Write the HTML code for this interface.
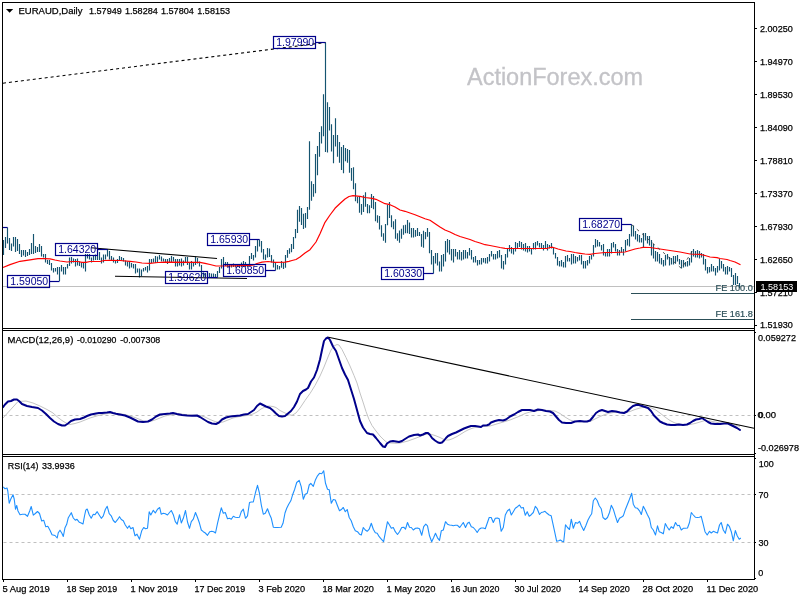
<!DOCTYPE html>
<html lang="en"><head><meta charset="utf-8"><title>EURAUD Daily - ActionForex.com</title>
<style>html,body{margin:0;padding:0;background:#fff}body{width:800px;height:600px;overflow:hidden}svg{display:block}text{font-family:"Liberation Sans",sans-serif}</style></head><body>
<svg width="800" height="600" viewBox="0 0 800 600">
<rect width="800" height="600" fill="#fff"/>
<text x="467" y="84.6" font-size="23.5" fill="#c3c3c7" stroke="#c3c3c7" stroke-width="0.3" textLength="176" lengthAdjust="spacingAndGlyphs">ActionForex.com</text>
<line x1="3" y1="286.5" x2="754" y2="286.5" stroke="#c0c0c0" stroke-width="1"/>
<line x1="3" y1="83.2" x2="325.5" y2="42.5" stroke="#000" stroke-width="1.1" stroke-dasharray="3 3"/>
<path d="M3.5 240V255M5.5 237V248M7.5 227.5V243.5M9.5 238V250M11.5 243.5V251M13.5 237V246.5M15.5 237V252M17.5 239V251M19.5 244V254M21.5 250V257M23.5 250V255.5M25.5 250V257M27.5 252V256M29.5 249V255M31.5 243V254M33.5 234V254M35.5 246V253M37.5 247V252M39.5 244V252M41.5 246V256.5M43.5 254V257.5M45.5 254V262.5M47.5 260V264M49.5 260V265M51.5 263V270.5M53.5 268V272.5M55.5 268V271.5M57.5 267V274.5M59.5 267V281M61.5 265V271.5M63.5 267V274.5M65.5 267V274.5M67.5 264V268.5M69.5 257.5V266M71.5 257V263.5M73.5 258.5V262.5M75.5 259V266.5M77.5 258.5V265.5M79.5 261.5V266M81.5 262.5V267.5M83.5 262.5V268.5M85.5 254V271.5M87.5 254V258.5M89.5 254V259.5M91.5 257.5V262.5M93.5 255.5V260.5M95.5 254.5V260M97.5 255.5V260M99.5 252V260M101.5 257.5V263.5M103.5 254.5V262.5M105.5 254.5V259.5M107.5 249V256.5M109.5 251V259.5M111.5 256V260M113.5 257.5V262.5M115.5 260.5V263.5M117.5 259V263M119.5 256V260.5M121.5 257V260.5M123.5 258V261.5M125.5 260.5V265.5M127.5 261.5V266.5M129.5 261.5V268.5M131.5 263V267.5M133.5 264V268.5M135.5 264V273.5M137.5 268.5V272.5M139.5 268.5V277.5M141.5 269.5V276M143.5 268V271.5M145.5 267V270.5M147.5 266V272.5M149.5 259V270.5M151.5 259V263M153.5 258.5V262.5M155.5 256V263M157.5 256.5V262.5M159.5 255V259.5M161.5 256.5V261.5M163.5 258.5V261.5M165.5 259V262M167.5 259V264M169.5 258V262M171.5 256V262M173.5 257V261.5M175.5 259V266.5M177.5 259V266.5M179.5 259V265.5M181.5 258.5V266.5M183.5 260.5V265.5M185.5 257V263M187.5 257V265M189.5 262.5V269.5M191.5 261V269.5M193.5 263V266.5M195.5 256.5V265M197.5 258V263.5M199.5 261.5V266.5M201.5 265V277M203.5 272.5V277M205.5 273V277M207.5 273V277M209.5 273V277M211.5 273.5V277M213.5 273.5V277.5M215.5 274V277.5M217.5 271V277.5M219.5 267V273M221.5 259V268.5M223.5 257V265M225.5 262V266M227.5 262V267M229.5 265V267.5M231.5 264.5V267.5M233.5 263.5V267M235.5 264.5V267.5M237.5 264V267M239.5 264.5V267.5M241.5 262.5V267M243.5 261V267M245.5 262V267M247.5 264.5V267M249.5 256V264.5M251.5 253V259M253.5 255V260.5M255.5 246V257.5M257.5 239.5V251.5M259.5 239.5V246.5M261.5 241V252.5M263.5 249V259.5M265.5 254.5V260M267.5 248V257.5M269.5 248.5V257M271.5 255V262.5M273.5 259.4V267.5M275.5 262.8V270.5M277.5 265V269.5M279.5 266V269.5M281.5 261V267.7M283.5 262.3V269M285.5 255V267.7M287.5 250V257.7M289.5 248.3V253.7M291.5 244V252.3M293.5 237V249M295.5 229V238.3M297.5 209.7V233M299.5 206V221.7M301.5 208V225M303.5 213.7V229M305.5 213V227.7M307.5 207V219M309.5 141.3V209.7M311.5 181.3V200.7M313.5 184V196.7M315.5 154V193.3M317.5 146V175.3M319.5 132V156.7M321.5 126.3V143.5M323.5 94.3V136.3M325.5 42.5V152M327.5 102.3V152.5M329.5 107V130.5M331.5 124.3V151.5M333.5 135V163.3M335.5 118.3V146.5M337.5 135V156.7M339.5 142V162.7M341.5 147V170M343.5 145V173.3M345.5 148V161.3M347.5 149V162.7M349.5 150V172.7M351.5 168V180.7M353.5 167.3V189.3M355.5 183.3V201.3M357.5 196.7V203.3M359.5 196V212.7M361.5 204V214.7M363.5 195.3V212M365.5 192.3V206.7M367.5 204V213.3M369.5 205.3V213.3M371.5 194V208M373.5 196V209.3M375.5 202V221.3M377.5 215.3V222.7M379.5 216V229.6M381.5 225.3V236.7M383.5 233.3V240.7M385.5 224V242.7M387.5 204.7V225.3M389.5 202V218M391.5 215.3V227.3M393.5 221.3V229.3M395.5 219.3V238.7M397.5 233.3V240.7M399.5 230.4V242.7M401.5 228.7V238.7M403.5 225.3V234.7M405.5 224.7V233.3M407.5 220V233.3M409.5 222.4V234M411.5 228V237.6M413.5 228V237.6M415.5 230V236.7M417.5 228V236M419.5 232V236M421.5 234V246.7M423.5 230.7V247.7M425.5 232V239.3M427.5 228V236.7M429.5 232V253.3M431.5 250V264.5M433.5 256V273.5M435.5 253V263.5M437.5 253V265.5M439.5 261.5V271.5M441.5 255V271.5M443.5 254V266.5M445.5 241V261.5M447.5 239V252.5M449.5 240V254.5M451.5 249V260.5M453.5 249V262.5M455.5 249V256.5M457.5 252V259.5M459.5 250V259.5M461.5 252V260.5M463.5 250V259.5M465.5 250V258.5M467.5 252V258.5M469.5 248V255.5M471.5 250V259.5M473.5 257V262.5M475.5 256V262.5M477.5 260V265.5M479.5 260V264.5M481.5 258V264.5M483.5 258V262.5M485.5 258V263.5M487.5 257V263.5M489.5 254V261.5M491.5 251V256.5M493.5 254V259.5M495.5 254V259.5M497.5 251V258.5M499.5 250V257.5M501.5 255V268.5M503.5 261V269.5M505.5 254V264.5M507.5 248V257.5M509.5 245V251.5M511.5 247V253.5M513.5 249V254.5M515.5 242V251.5M517.5 243V248M519.5 241V247M521.5 242V249.5M523.5 244V250.5M525.5 243V251.5M527.5 246V252.5M529.5 246V251.5M531.5 248V254.5M533.5 243V249.5M535.5 242V249.5M537.5 241V245.5M539.5 243V247.5M541.5 243V248.5M543.5 245V250.5M545.5 241V248.5M547.5 244V250.5M549.5 245V248.5M551.5 243V248.5M553.5 247V254.5M555.5 253V258.5M557.5 257V265.5M559.5 261V266.5M561.5 260V266.5M563.5 262V267.5M565.5 256V267.5M567.5 255V261.5M569.5 258V261.5M571.5 254V264.5M573.5 254V263.5M575.5 256V263.5M577.5 257V261.5M579.5 255V260.5M581.5 255V264.5M583.5 261V268.5M585.5 261V268.5M587.5 260V265.5M589.5 256V263.5M591.5 255V259.5M593.5 245V256.5M595.5 239V247.5M597.5 240V246.5M599.5 242V246.5M601.5 245V250.5M603.5 244V255.5M605.5 252V256.5M607.5 249V256.5M609.5 249V256.5M611.5 243V253.5M613.5 242V247.5M615.5 244V251.5M617.5 249V255.5M619.5 250V255.5M621.5 247V252.5M623.5 249V255.5M625.5 240V251.5M627.5 239V245.5M629.5 234V246.5M631.5 224.5V236.5M633.5 225.5V236.5M635.5 231V239.5M637.5 234V241.5M639.5 235V242.5M641.5 238V242.5M643.5 233V247M645.5 233V240.5M647.5 236V243.5M649.5 236V245.5M651.5 240V255.5M653.5 244V258.5M655.5 251V261.5M657.5 252V261.5M659.5 254V263.5M661.5 258V264.5M663.5 260V266.5M665.5 255V265.5M667.5 254V259.5M669.5 257V265.5M671.5 258V264.5M673.5 256V264.5M675.5 256V263.5M677.5 255V261.5M679.5 259V264.5M681.5 260V268.5M683.5 260V267.5M685.5 262V266.5M687.5 261V266.5M689.5 258V265.5M691.5 251V262.5M693.5 249V256.5M695.5 251V257.5M697.5 250V257.5M699.5 251V258.5M701.5 253V257.5M703.5 254V264.5M705.5 259V270.5M707.5 267V273.5M709.5 267V272.5M711.5 264V271.5M713.5 266V271.5M715.5 268V275.5M717.5 266V272.5M719.5 259V270.5M721.5 261V268.5M723.5 264V271.5M725.5 267V274.5M727.5 266V274.5M729.5 267V271.5M731.5 268V277M733.5 275V285M735.5 273V285M737.5 276V284M739.5 283V288" stroke="#155470" stroke-width="1.15" fill="none"/>
<polyline points="3,267.5 10,264.6 20,261.3 30,259.8 38,258.6 45,258.6 50,258.8 55,260 60,261 67,262 72,261.5 78,261.5 82,262.3 86,262.3 90,261.5 100,261.5 104,260.5 110,260.3 120,260.5 130,261.3 136,262 142,263 150,263.3 158,262.5 165,262.2 200,262.3 205,263.3 210,264.5 216,266 222,266 235,265.8 250,265.3 254,265 257,263.5 262,262.2 268,261.5 275,262.3 285,262.2 289,261.3 292,260.5 296,259.5 300,257 305,253 310,249.7 316,242 320,233.7 325,222.3 330,215 335,208.3 340,203.5 345,199 349,196.5 353,195.7 360,196.3 365,197.5 372,198.3 376,199.3 380,201.3 385,203.7 390,204.7 395,207 400,210 405,211.3 410,213 415,214.7 420,216.7 425,218.7 430,220.3 437,225 440,227 445,230 450,232 455,234.5 460,236.5 465,238 470,239.5 475,241.5 480,243 485,244.7 490,245.5 495,246.5 500,247.5 505,248.3 510,248.5 547,248.5 550,247.5 552,247.2 555,248 558,249 562,250 566,251 570,251.5 575,252.5 580,253.3 585,254 590,254.3 595,253.5 600,253 605,252.5 615,252.5 625,252 630,250.5 635,249 640,248 643,247.3 650,247.5 660,249 670,250.5 680,252 690,254 700,254.4 705,255.5 710,257 717,257.6 720,258.5 727,259.5 730,260.5 735,262 738,263.5 740.5,264.7" fill="none" stroke="#ff0000" stroke-width="1.2" stroke-linejoin="round"/>
<line x1="91" y1="247.7" x2="217" y2="258.5" stroke="#000" stroke-width="1.15"/>
<line x1="115" y1="276.2" x2="247" y2="278.5" stroke="#000" stroke-width="1.15"/>
<polyline points="631.5,224.5 681.5,268.5 693.5,249" fill="none" stroke="#333" stroke-width="0.8" stroke-dasharray="3 4"/>
<line x1="631" y1="293.5" x2="754" y2="293.5" stroke="#2c4f58" stroke-width="1.1"/>
<text x="715.6" y="290.6" font-size="9.6" fill="#2c4f58" stroke="#2c4f58" stroke-width="0.2" textLength="37.2" lengthAdjust="spacingAndGlyphs">FE 100.0</text>
<line x1="631" y1="319.5" x2="754" y2="319.5" stroke="#2c4f58" stroke-width="1.1"/>
<text x="715.6" y="316.8" font-size="9.6" fill="#2c4f58" stroke="#2c4f58" stroke-width="0.2" textLength="37.2" lengthAdjust="spacingAndGlyphs">FE 161.8</text>
<rect x="273.5" y="36.5" width="42" height="12" fill="none" stroke="#00008b" stroke-width="1.2"/>
<path d="M315.5 42.5H325.5" stroke="#00008b" stroke-width="1.2" fill="none"/>
<text x="276.2" y="46.4" font-size="10.4" fill="#00008b" textLength="38" lengthAdjust="spacingAndGlyphs">1.97990</text>
<rect x="55.5" y="243.5" width="42" height="12" fill="none" stroke="#00008b" stroke-width="1.2"/>
<path d="M97.5 249.5H107.5" stroke="#00008b" stroke-width="1.2" fill="none"/>
<text x="58.2" y="253.4" font-size="10.4" fill="#00008b" textLength="38" lengthAdjust="spacingAndGlyphs">1.64320</text>
<rect x="7.5" y="275.5" width="42" height="12" fill="none" stroke="#00008b" stroke-width="1.2"/>
<path d="M49.5 281.5H59.5" stroke="#00008b" stroke-width="1.2" fill="none"/>
<text x="10.2" y="285.4" font-size="10.4" fill="#00008b" textLength="38" lengthAdjust="spacingAndGlyphs">1.59050</text>
<rect x="165.5" y="271.5" width="42" height="12" fill="none" stroke="#00008b" stroke-width="1.2"/>
<path d="M207.5 277.5H217.5" stroke="#00008b" stroke-width="1.2" fill="none"/>
<text x="168.2" y="281.4" font-size="10.4" fill="#00008b" textLength="38" lengthAdjust="spacingAndGlyphs">1.59620</text>
<rect x="207.5" y="233.5" width="42" height="12" fill="none" stroke="#00008b" stroke-width="1.2"/>
<path d="M249.5 239.5H259.5" stroke="#00008b" stroke-width="1.2" fill="none"/>
<text x="210.2" y="243.4" font-size="10.4" fill="#00008b" textLength="38" lengthAdjust="spacingAndGlyphs">1.65930</text>
<rect x="223.5" y="264.5" width="42" height="12" fill="none" stroke="#00008b" stroke-width="1.2"/>
<path d="M265.5 270.5H275.5" stroke="#00008b" stroke-width="1.2" fill="none"/>
<text x="226.2" y="274.4" font-size="10.4" fill="#00008b" textLength="38" lengthAdjust="spacingAndGlyphs">1.60850</text>
<rect x="381.5" y="267.5" width="42" height="12" fill="none" stroke="#00008b" stroke-width="1.2"/>
<path d="M423.5 273.5H433.5" stroke="#00008b" stroke-width="1.2" fill="none"/>
<text x="384.2" y="277.4" font-size="10.4" fill="#00008b" textLength="38" lengthAdjust="spacingAndGlyphs">1.60330</text>
<rect x="579.5" y="218.5" width="42" height="12" fill="none" stroke="#00008b" stroke-width="1.2"/>
<path d="M621.5 224.5H631.5" stroke="#00008b" stroke-width="1.2" fill="none"/>
<text x="582.2" y="228.4" font-size="10.4" fill="#00008b" textLength="38" lengthAdjust="spacingAndGlyphs">1.68270</text>
<path d="M3 227.5H7.5" stroke="#00008b" stroke-width="1.2" fill="none"/>
<line x1="3.5" y1="415.5" x2="754" y2="415.5" stroke="#c0c0c0" stroke-width="1" stroke-dasharray="3 3"/>
<polyline points="3,418 18,401.5 26,401 33,403 40,406 47,409.5 53,413 58,417.5 62,420.5 66,423 70,424.5 75,423.5 80,422 85,420 90,418 95,416.5 100,415 105,414 110,413.3 115,413.5 120,414 125,414.5 130,416 135,417.5 140,419.5 145,421.5 150,421.5 155,420 160,418 165,416 170,415 175,414.2 180,414 185,414.5 190,415 195,415.3 200,415.5 205,417 210,419.5 215,421.5 219,422.5 223,422 228,420 233,418 238,416.8 243,416 248,415.3 253,414 257,412 261,409 265,407 269,406 273,406.5 276,407.5 280,410.5 284,412.5 288,414.5 292,415.3 296,413 300,408 305,400.5 310,393.5 315,385.5 320,376 324,367 328,357 331,350 334,346 337,344.5 339,345 342,349.5 346,357.5 350,366 354,375.5 357,383 360,393 363,402 366,411.5 369,419.5 372,425.5 376,431 380,436 384,440 387,442.5 391,443 396,443.3 400,443 404,442 408,441 412,439.5 415,438.5 420,436.5 425,434.5 430,434 435,435.5 440,437.5 443,439 446,440 449,440 453,438.5 457,436.5 461,434 465,431.5 469,429.5 473,428 477,427 481,426.5 485,426.5 490,426 495,424.5 500,423 505,421.5 510,420 515,418 520,416 525,413.5 530,412 535,411 540,410.5 545,410.3 550,410.5 555,411 560,413.5 565,417 570,420 575,421.5 580,421.8 585,421.8 590,421.5 595,419 600,416.5 605,414.5 610,413 615,412.3 620,412.3 625,412.5 630,411.5 635,409.5 640,408 645,407 650,407.5 655,409.5 660,413 665,417 670,420.5 675,423 680,424.3 685,424.8 690,424.5 695,423.5 700,422 705,420.5 710,421 715,422 720,423 725,423.5 730,424 735,425 740,426.5" fill="none" stroke="#c4c4c4" stroke-width="1" stroke-linejoin="round"/>
<polyline points="3,407.2 5,404.5 8,401.5 11,401 14,399.5 17,399.5 19,401 22,404 27,406 32,407 38,408 42,410.5 46,414 50,418 54,421.5 58,424 62,425.5 65,425.5 68,423.5 71,421 75,419.5 80,419 84,417.5 87,416 91,414.5 96,413.5 99,413 102,413 107,412.5 110,412 113,413 116,413.8 120,414.4 125,415.5 130,417.5 134,419.5 138,421.5 143,422 148,421.5 152,419.5 156,416.5 160,414.5 165,414 170,413.5 173,413 177,414 182,415 187,415.5 192,415.8 197,415.5 200,417 204,419.5 208,422 212,423.5 216,424 219,422.5 222,419.5 226,417.5 230,416.5 235,416 240,415.5 244,414.5 248,414 251,412 254,410 257,406 260,403.5 263,405 266,406.5 270,408 273,410.5 276,413.5 279,416 282,416.5 285,416 288,413.5 291,411 294,407 297,401.5 300,394 303,391 306,389.5 308,388 311,381.5 314,377.5 317,370 320,359.5 322,350 324,341 326,338.5 328,337.5 330,340 333,346.5 336,351 339,359.5 342,368 345,374.5 348,380 351,389.5 354,399 357,410 360,421 363,427.5 367,433 370,434 373,434.5 376,438 380,443 383,446.5 385,447 387,443.5 390,441.5 393,441 396,441.5 399,442 402,441 405,439 409,436.5 414,435 418,434.5 420,435.5 423,434.5 426,433 428,433 430,435 432,438 435,440.5 438,442.5 440,443 442,442.5 444,440.5 446,438 448,436 452,434 456,432.5 460,430.5 464,428.5 468,427 471,426 475,426 478,426.5 481,427 483,425.5 487,425.3 489,424.5 491,422.5 495,421 499,420 503,420.5 506,419.5 510,416.5 514,414.5 518,412 522,410 526,410 530,410 534,411 538,409.5 542,410 546,411 550,411.5 553,413 556,416.5 559,420 562,422.5 566,423 571,423 575,421.5 580,421 584,421.5 587,421.5 590,420.5 593,417 596,413 599,411 602,410 605,411 608,412 612,411 616,411.5 620,412.5 624,413 627,411.5 630,408.5 633,406 636,405 639,405 642,406 645,407 648,408 651,411 654,415.5 657,418.5 660,421.5 663,423 667,424.5 671,425 675,425 679,424.5 683,425 687,424.5 690,423 693,421 696,419.5 699,419 702,418 705,420 708,422 711,423.5 715,424 720,424 724,423.5 728,423.5 731,425 734,426.5 737,428 740,430" fill="none" stroke="#00008b" stroke-width="2" stroke-linejoin="round" stroke-linecap="round"/>
<line x1="328.5" y1="337.3" x2="754" y2="428.3" stroke="#000" stroke-width="1.1"/>
<line x1="3.5" y1="494.5" x2="754" y2="494.5" stroke="#c0c0c0" stroke-width="1" stroke-dasharray="3 3"/>
<line x1="3.5" y1="542.5" x2="754" y2="542.5" stroke="#c0c0c0" stroke-width="1" stroke-dasharray="3 3"/>
<polyline points="3.3,486.8 5,488.8 7,488 7.8,491 9.2,503.2 10.8,499 13,494.7 14.2,499 15.5,509.3 16.7,505.5 18,511 20,514.7 22.5,514.3 25,514.3 27.5,516.3 29.7,511 31.2,506.5 33.3,515.2 35.3,513.5 37.5,511.5 39.5,513.5 41.7,521 43.7,520.2 45.8,526.8 47.8,526.3 50,530.2 52,534.8 55,535.5 57.2,538 58.3,532.7 60,530.2 62,533.5 63.3,536.5 65,527.7 66.7,524.3 68.3,517.7 71.3,512.7 73.3,518 75.3,520.2 77,519.3 79.2,522.2 81.2,523 83,524 84.5,516 85.8,510.2 87.2,509 89.2,514.7 91.2,518.2 93.3,514.3 95,514.7 97.2,511.7 99.2,515 101.3,518.3 103.3,515.8 105.3,509.5 107.2,506.3 109.2,513.7 111.2,515.8 113.3,520.5 115.3,522.5 117.5,519.7 119.5,516.7 121.3,519.5 123.3,520.8 125.3,525 127.5,528.3 129.2,525.8 130.8,528.7 133,527.5 135,535.8 137,534.2 139.5,539.2 141.7,530.8 143.7,527.5 145.5,528.7 147.5,528.3 149.2,511.7 150.8,515 153.3,510.3 155.3,513 157.5,509.2 159.7,507.5 161.2,514.2 163.3,513.3 165.3,513.7 167.5,515 169.5,512.5 171.3,510.5 173.3,514.7 175.3,521.7 177.2,524.2 179.5,514.7 181.3,523 183.3,518.3 185.5,510.5 187.5,522 189.5,528.3 191.3,521.7 193.3,519.2 195.5,512.5 197.5,517.5 199.5,523.3 201.3,530 203.3,531.7 205.3,533 207.5,535.3 209.7,531.7 211.7,531.2 213.7,531.7 215.5,533 217.5,523.3 219.5,515 221.3,507.8 223.3,513.3 225.3,512.5 227.5,518.7 229.5,518.3 231.3,519.2 233.3,516.3 235.3,517.2 237.5,517.5 239.5,517.2 241.3,511.7 243.3,509.2 245.5,518.3 247.5,515.8 249.5,502.5 251.3,502 253.3,502 255.5,492.5 257.5,485.3 259.5,493.3 261.3,505 263.3,514.2 265.3,513.3 267.5,508.7 269.5,514.2 271.3,518.3 273.3,527.2 275.3,527.5 277.5,527.5 281.2,527.2 283,523.3 285,513 286.7,508.3 288.7,504.2 290.8,500.8 292.8,494.2 294.7,489.2 296.7,482.5 299.2,480.3 301.2,486.7 303.3,499.2 305.3,494.2 307.2,493.3 309.2,485 310.8,483.3 313.3,486.3 315.5,479.7 317.5,475.8 319.5,473.3 321.7,473.7 323.7,470.8 325.5,483.3 327.5,489.2 329.2,489.7 331.3,503.3 333.3,499.5 335.3,500 337.5,505.8 339.5,510.8 341.7,509.2 343.3,507.5 345.3,511.7 347.2,509.5 349.2,517.5 351.2,520.8 353.3,526.7 355.3,530.8 357.5,531.7 359.5,534.2 361.3,535 363.3,527.5 365.3,530 367.2,531.3 369.2,529.2 371.3,523.3 373.3,529.2 375.3,532.8 377.2,533.3 379.2,536.7 381.5,539.3 383.6,541.7 385.5,531.7 387.5,521.7 389.5,525 391.3,528.3 393.3,527.5 395.3,531.7 397.5,534.5 399.5,531.7 401.7,527.5 403.7,527.2 405.5,529.2 407.5,522.5 409.5,527.2 411.3,527.5 413.3,530 415.5,528.3 417.5,528 419.5,528.8 421.7,535.3 423.7,526.7 425.8,524.2 427.5,525.8 429.5,535.8 431.7,541.7 433.7,537.5 435.5,533.3 437.5,537.8 439.5,540.3 441.3,530.8 443.3,530 445.5,521.7 447.5,524.2 449.5,525 451.7,525.3 453.3,525.8 455.3,525.3 457.5,525.3 459.7,527.5 461.7,524.7 463.3,522.5 465.5,527.5 467.5,523.3 469.2,522.2 471.3,526.7 473.3,527.5 475.5,530 477.2,532.5 479.2,529.2 481.2,528 483.3,528 485.3,528.8 487.2,523.3 489.2,517.5 491.2,517.5 493.3,522.5 495.3,518.3 497.5,518 499.2,518.7 501.2,531.3 503.3,527.5 505.3,515 507.5,510.8 509.5,509.2 511.3,515 513.3,511.7 515.3,508.3 517.5,506.7 519.5,505 521.3,508 523.3,507.5 525.3,515.3 527.2,511.7 529.2,516.3 531.2,514.7 533.3,512.5 535.3,506.3 537.2,508.7 539.5,514.5 541.3,512.5 543.3,512 545,511.3 547,513.3 549.2,515 551.2,515.8 553,524.2 555,533.3 556.7,541.3 558.7,540.8 560.3,540 562.2,541.3 563.7,541.7 565.5,524.7 567.5,527.5 569.5,529.5 571.3,519.2 573.3,528.3 575.5,522.5 577.5,523.3 579.5,521.3 581.3,525.8 583.7,530.5 585.8,525.8 588,520 590,516.3 591.7,513.8 593.3,500.8 595.3,498 597.2,500.5 599.2,505.8 601.2,508.7 603,517.5 605.3,519.5 607.5,517.5 609.5,512.5 611.3,505.3 613.3,509.2 615.3,515.8 617.5,522.5 619.5,518.3 621.7,517 623.3,515.8 625.5,509.2 627.5,504.2 629.5,499.2 631.7,493.3 633.3,504.2 635.3,507.8 637.5,508.3 639.5,510.8 641.3,514.5 643.3,506.3 645.3,510 647.2,514.2 649.5,518.7 651.3,527.5 653.3,530 655.5,535 657.5,525.8 659.2,531.7 661.2,532.5 663.3,533.8 665.3,523.5 667.2,527 669.2,530 671.2,526.7 673.3,528.3 675.5,522.5 677.5,525.8 679.2,525.3 681.3,530 683.3,528.3 685.3,528.3 687.5,528 689.5,522.5 691.3,512.5 693.3,515 695.3,517.2 697.5,517.5 699.5,517.2 701.2,516.3 703,523.3 705,531.7 707.2,535 709.5,531.3 711.3,533 713.3,531.3 715.5,532.2 717.5,533 719.5,525 721.2,522.5 723.3,530 725.3,533.3 727.5,524.2 729.5,526.7 731.3,531.7 733.3,540.8 735.3,530.5 737.2,535.8 739.2,539.2 740.8,538" fill="none" stroke="#1e90ff" stroke-width="1.1" stroke-linejoin="round"/>
<g stroke="#000" stroke-width="1" fill="none" shape-rendering="crispEdges">
<path d="M2.5 2V579.5"/>
<path d="M754.5 2V579.5"/>
<path d="M2 2.5H755"/>
<path d="M2 328.5H755"/>
<path d="M2 330.5H755"/>
<path d="M2 454.5H755"/>
<path d="M2 456.5H755"/>
<path d="M2 579.5H755"/>
<path d="M755 28.5H757"/>
<path d="M755 61.5H757"/>
<path d="M755 94.5H757"/>
<path d="M755 127.5H757"/>
<path d="M755 160.5H757"/>
<path d="M755 193.5H757"/>
<path d="M755 226.5H757"/>
<path d="M755 259.5H757"/>
<path d="M755 292.5H757"/>
<path d="M755 325.5H757"/>
<path d="M755 415.5H756"/>
<path d="M755 494.5H756"/>
<path d="M755 542.5H756"/>
<path d="M755 332.5H756"/>
<path d="M755 453.5H756"/>
<path d="M755 458.5H756"/>
<path d="M755 578.5H756"/>
<path d="M3.5 580V582"/>
<path d="M67.5 580V582"/>
<path d="M131.5 580V582"/>
<path d="M195.5 580V582"/>
<path d="M259.5 580V582"/>
<path d="M323.5 580V582"/>
<path d="M387.5 580V582"/>
<path d="M451.5 580V582"/>
<path d="M515.5 580V582"/>
<path d="M579.5 580V582"/>
<path d="M643.5 580V582"/>
<path d="M707.5 580V582"/>
</g>
<text x="760" y="31.7" font-size="9.8" fill="#000" stroke="#000" stroke-width="0.25" textLength="32.8" lengthAdjust="spacingAndGlyphs">2.00250</text>
<text x="760" y="64.7" font-size="9.8" fill="#000" stroke="#000" stroke-width="0.25" textLength="32.8" lengthAdjust="spacingAndGlyphs">1.94970</text>
<text x="760" y="97.6" font-size="9.8" fill="#000" stroke="#000" stroke-width="0.25" textLength="32.8" lengthAdjust="spacingAndGlyphs">1.89530</text>
<text x="760" y="130.6" font-size="9.8" fill="#000" stroke="#000" stroke-width="0.25" textLength="32.8" lengthAdjust="spacingAndGlyphs">1.84090</text>
<text x="760" y="163.6" font-size="9.8" fill="#000" stroke="#000" stroke-width="0.25" textLength="32.8" lengthAdjust="spacingAndGlyphs">1.78810</text>
<text x="760" y="196.5" font-size="9.8" fill="#000" stroke="#000" stroke-width="0.25" textLength="32.8" lengthAdjust="spacingAndGlyphs">1.73370</text>
<text x="760" y="229.5" font-size="9.8" fill="#000" stroke="#000" stroke-width="0.25" textLength="32.8" lengthAdjust="spacingAndGlyphs">1.67930</text>
<text x="760" y="262.5" font-size="9.8" fill="#000" stroke="#000" stroke-width="0.25" textLength="32.8" lengthAdjust="spacingAndGlyphs">1.62650</text>
<text x="760" y="295.5" font-size="9.8" fill="#000" stroke="#000" stroke-width="0.25" textLength="32.8" lengthAdjust="spacingAndGlyphs">1.57210</text>
<text x="760" y="328.4" font-size="9.8" fill="#000" stroke="#000" stroke-width="0.25" textLength="32.8" lengthAdjust="spacingAndGlyphs">1.51930</text>
<text x="758" y="340.6" font-size="9.8" fill="#000" stroke="#000" stroke-width="0.25" textLength="38" lengthAdjust="spacingAndGlyphs">0.059272</text>
<text x="757.6" y="418.4" font-size="9.8" fill="#000" stroke="#000" stroke-width="0.25" textLength="18.5" lengthAdjust="spacingAndGlyphs">0.00</text>
<text x="758.6" y="418.4" font-size="9.8" fill="#000" stroke="#000" stroke-width="0.25" textLength="5" lengthAdjust="spacingAndGlyphs">0</text>
<text x="758" y="450.8" font-size="9.8" fill="#000" stroke="#000" stroke-width="0.25" textLength="41" lengthAdjust="spacingAndGlyphs">-0.026978</text>
<text x="758.7" y="466.8" font-size="9.8" fill="#000" stroke="#000" stroke-width="0.25" textLength="15" lengthAdjust="spacingAndGlyphs">100</text>
<text x="758.5" y="498" font-size="9.8" fill="#000" stroke="#000" stroke-width="0.25" textLength="10" lengthAdjust="spacingAndGlyphs">70</text>
<text x="758.5" y="546" font-size="9.8" fill="#000" stroke="#000" stroke-width="0.25" textLength="10" lengthAdjust="spacingAndGlyphs">30</text>
<text x="758.2" y="576" font-size="9.8" fill="#000" stroke="#000" stroke-width="0.25" textLength="5" lengthAdjust="spacingAndGlyphs">0</text>
<rect x="756" y="281" width="41" height="11" fill="#000"/>
<text x="760.5" y="289.9" font-size="9.8" fill="#fff" textLength="32.8" lengthAdjust="spacingAndGlyphs">1.58153</text>
<path d="M6 9H13.2L9.6 12.8Z" fill="#000"/>
<text x="18.5" y="13.6" font-size="9.8" fill="#000" stroke="#000" stroke-width="0.25" textLength="64" lengthAdjust="spacingAndGlyphs">EURAUD,Daily</text>
<text x="89" y="13.6" font-size="9.8" fill="#000" stroke="#000" stroke-width="0.25" textLength="32.8" lengthAdjust="spacingAndGlyphs">1.57949</text>
<text x="125" y="13.6" font-size="9.8" fill="#000" stroke="#000" stroke-width="0.25" textLength="32.8" lengthAdjust="spacingAndGlyphs">1.58284</text>
<text x="161" y="13.6" font-size="9.8" fill="#000" stroke="#000" stroke-width="0.25" textLength="32.8" lengthAdjust="spacingAndGlyphs">1.57804</text>
<text x="197.3" y="13.6" font-size="9.8" fill="#000" stroke="#000" stroke-width="0.25" textLength="32.8" lengthAdjust="spacingAndGlyphs">1.58153</text>
<text x="7.5" y="342.5" font-size="9.8" fill="#000" stroke="#000" stroke-width="0.25" textLength="65.8" lengthAdjust="spacingAndGlyphs">MACD(12,26,9)</text>
<text x="77" y="342.5" font-size="9.8" fill="#000" stroke="#000" stroke-width="0.25" textLength="39.4" lengthAdjust="spacingAndGlyphs">-0.010290</text>
<text x="120.3" y="342.5" font-size="9.8" fill="#000" stroke="#000" stroke-width="0.25" textLength="40" lengthAdjust="spacingAndGlyphs">-0.007308</text>
<text x="7.8" y="468.8" font-size="9.8" fill="#000" stroke="#000" stroke-width="0.25" textLength="30.7" lengthAdjust="spacingAndGlyphs">RSI(14)</text>
<text x="42" y="468.8" font-size="9.8" fill="#000" stroke="#000" stroke-width="0.25" textLength="32.7" lengthAdjust="spacingAndGlyphs">33.9936</text>
<text x="2.5" y="592" font-size="9.8" fill="#000" stroke="#000" stroke-width="0.25" textLength="47.3" lengthAdjust="spacingAndGlyphs">5 Aug 2019</text>
<text x="66.5" y="592" font-size="9.8" fill="#000" stroke="#000" stroke-width="0.25" textLength="50.6" lengthAdjust="spacingAndGlyphs">18 Sep 2019</text>
<text x="130.5" y="592" font-size="9.8" fill="#000" stroke="#000" stroke-width="0.25" textLength="47.2" lengthAdjust="spacingAndGlyphs">1 Nov 2019</text>
<text x="194.5" y="592" font-size="9.8" fill="#000" stroke="#000" stroke-width="0.25" textLength="50.7" lengthAdjust="spacingAndGlyphs">17 Dec 2019</text>
<text x="258.5" y="592" font-size="9.8" fill="#000" stroke="#000" stroke-width="0.25" textLength="46.6" lengthAdjust="spacingAndGlyphs">3 Feb 2020</text>
<text x="322.5" y="592" font-size="9.8" fill="#000" stroke="#000" stroke-width="0.25" textLength="51.3" lengthAdjust="spacingAndGlyphs">18 Mar 2020</text>
<text x="386.5" y="592" font-size="9.8" fill="#000" stroke="#000" stroke-width="0.25" textLength="48.9" lengthAdjust="spacingAndGlyphs">1 May 2020</text>
<text x="450.5" y="592" font-size="9.8" fill="#000" stroke="#000" stroke-width="0.25" textLength="48.9" lengthAdjust="spacingAndGlyphs">16 Jun 2020</text>
<text x="514.5" y="592" font-size="9.8" fill="#000" stroke="#000" stroke-width="0.25" textLength="46.5" lengthAdjust="spacingAndGlyphs">30 Jul 2020</text>
<text x="578.5" y="592" font-size="9.8" fill="#000" stroke="#000" stroke-width="0.25" textLength="51.3" lengthAdjust="spacingAndGlyphs">14 Sep 2020</text>
<text x="642.5" y="592" font-size="9.8" fill="#000" stroke="#000" stroke-width="0.25" textLength="50.6" lengthAdjust="spacingAndGlyphs">28 Oct 2020</text>
<text x="706.5" y="592" font-size="9.8" fill="#000" stroke="#000" stroke-width="0.25" textLength="51.7" lengthAdjust="spacingAndGlyphs">11 Dec 2020</text>
</svg></body></html>
